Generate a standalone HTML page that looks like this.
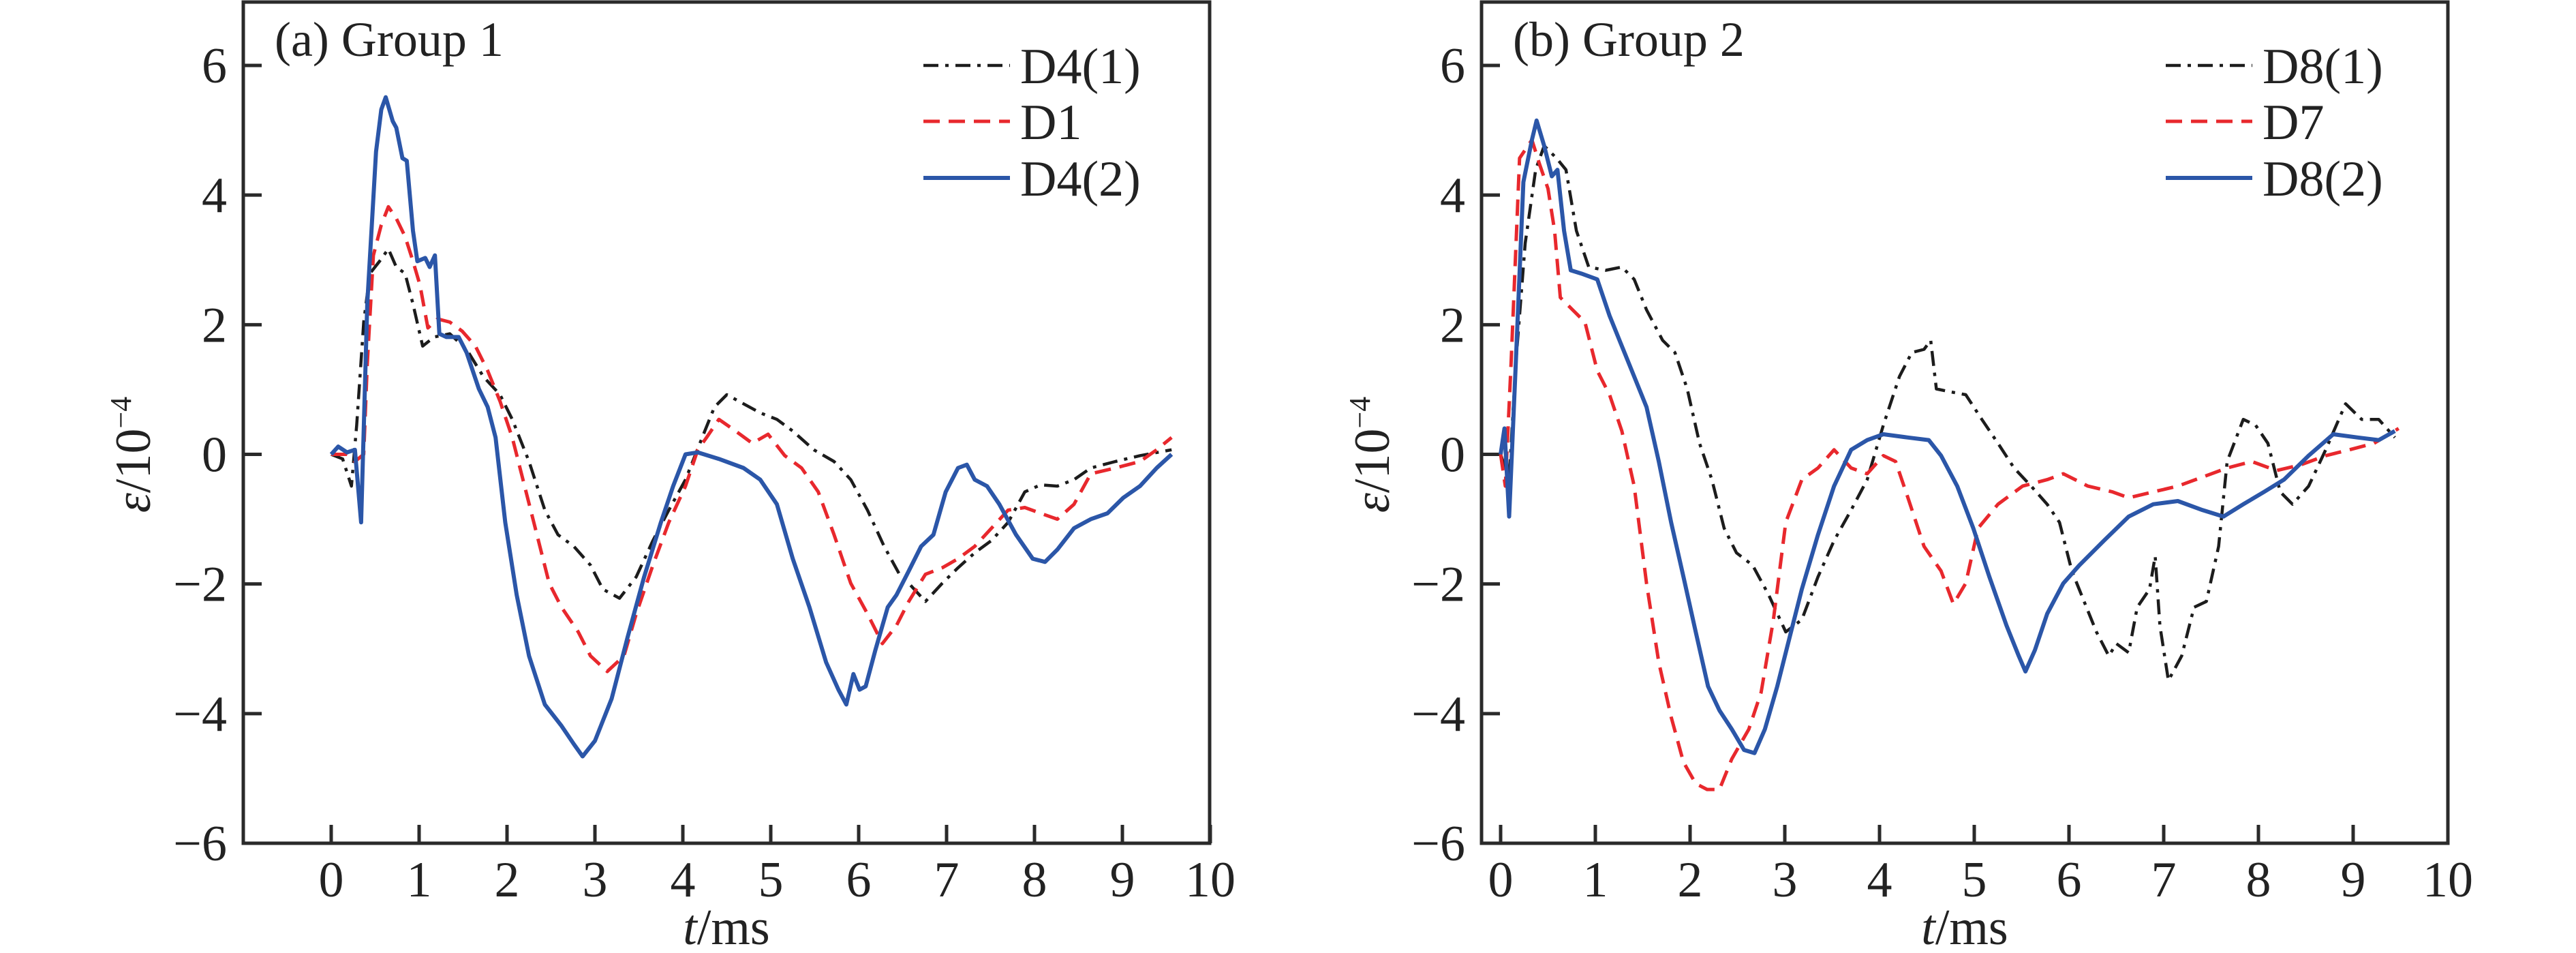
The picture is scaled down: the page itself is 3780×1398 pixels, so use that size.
<!DOCTYPE html>
<html><head><meta charset="utf-8"><style>
html,body{margin:0;padding:0;background:#fff;}
svg{display:block;font-family:"Liberation Serif",serif;}
</style></head><body>
<svg id="fig" width="3780" height="1398" viewBox="0 0 3780 1398" xmlns="http://www.w3.org/2000/svg"></svg>
<script>
const xTicks=[0,1,2,3,4,5,6,7,8,9,10];
const yTicks=[-6,-4,-2,0,2,4,6];
const yTickLabels=["\u22126","\u22124","\u22122","0","2","4","6"];
// Panel a
const a_d41_t=[0,0.13,0.23,0.29,0.37,0.44,0.55,0.65,0.74,0.84,0.93,1.04,1.17,1.35,1.54,1.73,1.92,2.06,2.25,2.43,2.58,2.76,2.95,3.09,3.28,3.47,3.66,3.84,4.03,4.22,4.36,4.5,4.69,4.88,5.07,5.25,5.49,5.72,5.91,6.1,6.29,6.48,6.57,6.76,6.95,7.13,7.32,7.51,7.7,7.89,8.07,8.26,8.45,8.64,8.92,9.2,9.56];
const a_d41_v=[0,-0.07,-0.49,0.45,2.04,2.79,2.98,3.17,2.89,2.79,2.32,1.67,1.81,1.86,1.62,1.2,0.92,0.54,-0.11,-0.86,-1.24,-1.42,-1.71,-2.08,-2.22,-1.89,-1.33,-0.86,-0.39,0.26,0.73,0.92,0.78,0.64,0.54,0.36,0.07,-0.11,-0.39,-0.86,-1.42,-1.89,-1.99,-2.27,-1.99,-1.75,-1.52,-1.33,-1.05,-0.58,-0.47,-0.49,-0.39,-0.21,-0.11,-0.02,0.07];
const a_d1_t=[0,0.18,0.27,0.37,0.41,0.48,0.57,0.65,0.74,0.84,0.93,1.01,1.1,1.21,1.35,1.49,1.64,1.78,1.92,2.06,2.2,2.34,2.48,2.62,2.81,2.95,3.14,3.33,3.47,3.66,3.84,4.03,4.17,4.27,4.41,4.6,4.79,4.97,5.16,5.35,5.54,5.72,5.91,6.1,6.27,6.43,6.57,6.76,6.95,7.13,7.32,7.51,7.7,7.89,8.07,8.26,8.45,8.64,8.92,9.2,9.39,9.56];
const a_d1_v=[0,0,-0.11,0,1.39,3.07,3.54,3.82,3.64,3.36,2.98,2.61,1.95,2.09,2.04,1.9,1.67,1.29,0.82,0.26,-0.49,-1.24,-1.99,-2.36,-2.74,-3.11,-3.35,-3.11,-2.46,-1.71,-1.05,-0.49,0.07,0.26,0.54,0.36,0.17,0.31,-0.02,-0.21,-0.58,-1.24,-1.99,-2.46,-2.92,-2.64,-2.27,-1.85,-1.75,-1.61,-1.42,-1.14,-0.86,-0.82,-0.91,-1,-0.77,-0.3,-0.21,-0.11,0.07,0.26];
const a_d42_t=[0,0.08,0.18,0.27,0.34,0.41,0.51,0.57,0.62,0.7,0.74,0.81,0.86,0.93,0.98,1.07,1.12,1.18,1.23,1.31,1.45,1.54,1.68,1.78,1.87,1.98,2.11,2.25,2.43,2.62,2.76,2.86,3,3.19,3.37,3.56,3.75,3.89,4.03,4.17,4.41,4.69,4.88,5.07,5.25,5.44,5.63,5.77,5.86,5.94,6.01,6.08,6.19,6.33,6.43,6.57,6.71,6.85,6.99,7.13,7.23,7.32,7.46,7.6,7.79,7.98,8.12,8.26,8.45,8.64,8.83,9.01,9.2,9.39,9.56];
const a_d42_v=[0,0.12,0.03,0.07,-1.05,2.32,4.67,5.32,5.51,5.14,5.04,4.57,4.53,3.45,2.98,3.03,2.89,3.07,1.86,1.81,1.81,1.57,1.01,0.73,0.26,-1.05,-2.17,-3.11,-3.86,-4.19,-4.47,-4.66,-4.42,-3.77,-2.83,-1.89,-1.05,-0.49,0,0.03,-0.07,-0.21,-0.39,-0.77,-1.61,-2.36,-3.21,-3.63,-3.86,-3.39,-3.63,-3.58,-3.02,-2.36,-2.17,-1.8,-1.42,-1.24,-0.58,-0.21,-0.16,-0.39,-0.49,-0.77,-1.24,-1.61,-1.66,-1.47,-1.14,-1,-0.91,-0.67,-0.49,-0.21,0];
// Panel b
const b_d81_t=[0,0.09,0.16,0.26,0.37,0.46,0.59,0.69,0.8,0.93,1.11,1.28,1.41,1.54,1.71,1.84,1.97,2.1,2.23,2.36,2.49,2.66,2.83,3.01,3.18,3.35,3.52,3.7,3.87,4.04,4.21,4.34,4.47,4.54,4.6,4.73,4.91,5.08,5.25,5.42,5.6,5.77,5.9,6.03,6.16,6.29,6.42,6.5,6.63,6.72,6.85,6.91,6.96,7.05,7.19,7.32,7.45,7.58,7.67,7.84,7.97,8.1,8.23,8.36,8.53,8.71,8.92,9.09,9.27,9.44];
const b_d81_v=[0,-0.39,1.39,3.26,4.39,4.76,4.57,4.39,3.45,2.89,2.84,2.89,2.7,2.23,1.76,1.57,1.01,0.17,-0.39,-1.14,-1.52,-1.71,-2.17,-2.74,-2.55,-1.89,-1.33,-0.86,-0.39,0.45,1.2,1.57,1.62,1.76,1.01,0.97,0.92,0.54,0.17,-0.21,-0.49,-0.77,-1.05,-1.8,-2.27,-2.74,-3.11,-2.92,-3.06,-2.36,-2.08,-1.57,-2.64,-3.49,-3.11,-2.36,-2.27,-1.42,-0.11,0.54,0.45,0.17,-0.58,-0.77,-0.49,0.07,0.78,0.54,0.54,0.26];
const b_d7_t=[0,0.05,0.11,0.2,0.33,0.41,0.5,0.57,0.63,0.76,0.89,1.02,1.15,1.28,1.41,1.54,1.67,1.8,1.93,2.06,2.18,2.31,2.44,2.62,2.75,2.88,3.01,3.18,3.35,3.52,3.7,3.87,4.04,4.17,4.3,4.47,4.65,4.78,4.91,5.04,5.25,5.51,5.77,5.94,6.2,6.46,6.63,6.89,7.15,7.41,7.67,7.93,8.19,8.45,8.71,8.96,9.22,9.48];
const b_d7_v=[0,-0.49,1.39,4.57,4.85,4.48,4.1,3.45,2.42,2.23,2.04,1.29,0.92,0.36,-0.49,-1.99,-3.21,-4.05,-4.75,-5.08,-5.17,-5.17,-4.7,-4.24,-3.67,-2.55,-1.05,-0.39,-0.21,0.07,-0.21,-0.3,-0.02,-0.11,-0.67,-1.42,-1.8,-2.31,-1.99,-1.14,-0.77,-0.49,-0.39,-0.3,-0.49,-0.58,-0.67,-0.58,-0.49,-0.35,-0.21,-0.11,-0.25,-0.16,-0.02,0.07,0.17,0.4];
const b_d82_t=[0,0.04,0.09,0.16,0.24,0.33,0.38,0.46,0.54,0.6,0.67,0.74,0.85,1.02,1.15,1.28,1.41,1.54,1.67,1.8,1.93,2.06,2.19,2.31,2.44,2.57,2.68,2.79,2.92,3.05,3.18,3.35,3.52,3.7,3.87,4.04,4.3,4.52,4.65,4.82,4.99,5.16,5.34,5.47,5.54,5.64,5.77,5.94,6.11,6.37,6.63,6.89,7.15,7.41,7.63,7.84,8.06,8.27,8.53,8.79,9.05,9.27,9.44];
const b_d82_v=[0,0.4,-0.96,1.39,4.2,4.85,5.15,4.76,4.29,4.39,3.45,2.84,2.79,2.7,2.14,1.67,1.2,0.73,-0.11,-1.05,-1.89,-2.74,-3.58,-3.95,-4.24,-4.56,-4.61,-4.24,-3.58,-2.83,-2.08,-1.24,-0.49,0.07,0.22,0.31,0.26,0.22,-0.02,-0.49,-1.14,-1.89,-2.64,-3.11,-3.35,-3.02,-2.46,-1.99,-1.71,-1.33,-0.96,-0.77,-0.72,-0.86,-0.96,-0.77,-0.58,-0.39,-0.02,0.31,0.26,0.22,0.36];

const NS="http://www.w3.org/2000/svg";
const svg=document.getElementById('fig');
function mk(tag,attrs,parent,text){const e=document.createElementNS(NS,tag);for(const k in attrs)e.setAttribute(k,attrs[k]);if(text!==undefined)e.textContent=text;(parent||svg).appendChild(e);return e;}
const yTop=96,yBot=1237;
function Y(v){return yBot-(v+6)/12*(yBot-yTop);}
const STY={
 black:{stroke:"#1c1c1c",w:4.5,dash:"22 10 5 10"},
 red:{stroke:"#e8282d",w:5,dash:"24 13"},
 blue:{stroke:"#2b56a8",w:6,dash:""}
};
function panel(cfg){
 const g=mk('g',{});
 
 
 const X=t=>cfg.x0+t*cfg.px;
 const f=mk('rect',{x:cfg.left,y:3,width:cfg.right-cfg.left,height:yBot-3,fill:"none",stroke:"#2a2a2a","stroke-width":5},g);
 
 
 xTicks.forEach(t=>{
  const l=mk('line',{x1:X(t),x2:X(t),y1:yBot,y2:yBot-27,stroke:"#2a2a2a","stroke-width":5},g);
  
  
  const tx=mk('text',{x:X(t),y:1315,"font-size":74,"text-anchor":"middle",fill:"#222"},g,String(t));
  
  
 });
 yTicks.forEach((v,i)=>{
  const l=mk('line',{x1:cfg.left,x2:cfg.left+27,y1:Y(v),y2:Y(v),stroke:"#2a2a2a","stroke-width":5},g);
  
  
  const tx=mk('text',{x:cfg.left-24,y:Y(v)+25,"font-size":74,"text-anchor":"end",fill:"#222"},g,yTickLabels[i]);
  
  
 });
 const xt=mk('text',{x:(cfg.left+cfg.right)/2,y:1385,"font-size":74,"text-anchor":"middle",fill:"#222"},g);
 
 
 mk('tspan',{"font-style":"italic"},xt,"t");
 mk('tspan',{},xt,"/ms");
 const yt=mk('text',{x:0,y:0,"font-size":74,"text-anchor":"middle",fill:"#222",transform:`translate(${cfg.ytx},667) rotate(-90)`},g);
 
 
 mk('tspan',{"font-style":"italic"},yt,"\u03b5");
 mk('tspan',{},yt,"/10");
 mk('tspan',{"font-size":44,dy:-28},yt,"\u22124");
 const gl=mk('text',{x:cfg.left+46,y:82,"font-size":72,fill:"#222"},g,cfg.title);
 
 
 cfg.series.forEach((s,i)=>{
  const st=STY[s.c];
  const d=s.t.map((t,j)=>(j?'L':'M')+X(t).toFixed(1)+' '+Y(s.v[j]).toFixed(1)).join(' ');
  const p=mk('path',{d:d,fill:"none",stroke:st.stroke,"stroke-width":st.w,"stroke-dasharray":st.dash,"stroke-linejoin":"round"},g);
  
  
  const ly=[96,178,261][i];
  const ll=mk('line',{x1:cfg.legX,x2:cfg.legX+127,y1:ly,y2:ly,stroke:st.stroke,"stroke-width":st.w,"stroke-dasharray":st.dash},g);
  
  
  const lt=mk('text',{x:cfg.legX+142,y:ly+26,"font-size":74,fill:"#222"},g,s.n);
  
  
 });
}
panel({name:'panel-group-1',left:357,right:1775,x0:486,px:129,ytx:220,legX:1355,title:"(a) Group 1",
 series:[{n:"D4(1)",c:"black",t:a_d41_t,v:a_d41_v},{n:"D1",c:"red",t:a_d1_t,v:a_d1_v},{n:"D4(2)",c:"blue",t:a_d42_t,v:a_d42_v}]});
panel({name:'panel-group-2',left:2174,right:3592,x0:2202,px:139,ytx:2038,legX:3178,title:"(b) Group 2",
 series:[{n:"D8(1)",c:"black",t:b_d81_t,v:b_d81_v},{n:"D7",c:"red",t:b_d7_t,v:b_d7_v},{n:"D8(2)",c:"blue",t:b_d82_t,v:b_d82_v}]});
</script>
</body></html>
